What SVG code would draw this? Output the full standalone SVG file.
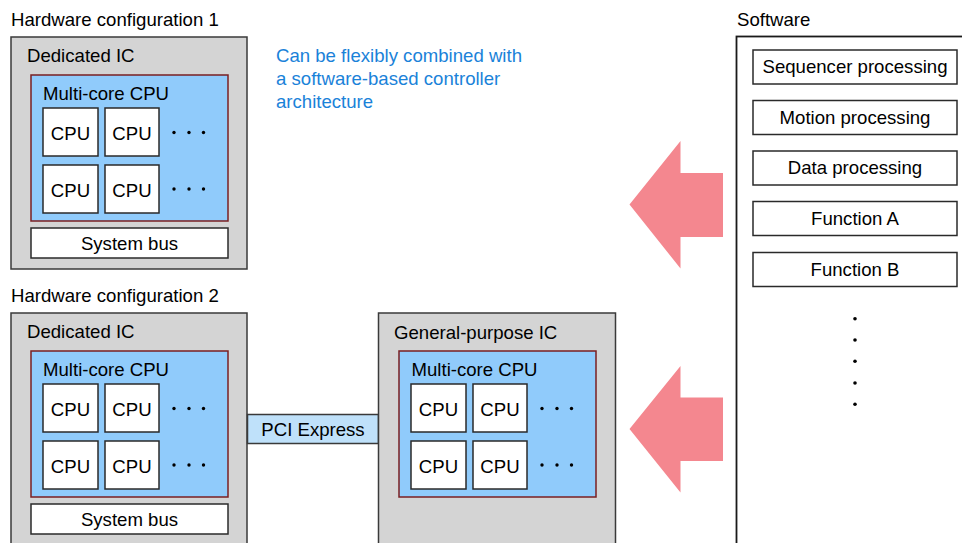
<svg xmlns="http://www.w3.org/2000/svg" width="962" height="543" viewBox="0 0 962 543">
<style>
text{font-family:"Liberation Sans",Arial,sans-serif;font-size:18.6px;fill:#000}
.c{text-anchor:middle}
.ic{fill:#d4d4d4;stroke:#3a3a3a;stroke-width:1.5}
.mc{fill:#90cbfb;stroke:#7a1f22;stroke-width:1.5}
.wb{fill:#fff;stroke:#2a2a2a;stroke-width:1.5}
.blue{fill:#1a82d9}
.arrow{fill:#f4878f}
.dot{fill:#000}
</style>
<defs>
<g id="cpuGrid">
<rect class="wb" x="12" y="33" width="55" height="48"/>
<text class="c" x="39.5" y="64.5">CPU</text>
<rect class="wb" x="74" y="33" width="54" height="48"/>
<text class="c" x="101" y="64.5">CPU</text>
<circle class="dot" cx="143" cy="57.5" r="1.7"/>
<circle class="dot" cx="158" cy="57.5" r="1.7"/>
<circle class="dot" cx="172.5" cy="57.5" r="1.7"/>
<rect class="wb" x="12" y="90" width="55" height="48"/>
<text class="c" x="39.5" y="121.5">CPU</text>
<rect class="wb" x="74" y="90" width="54" height="48"/>
<text class="c" x="101" y="121.5">CPU</text>
<circle class="dot" cx="143" cy="114" r="1.7"/>
<circle class="dot" cx="158" cy="114" r="1.7"/>
<circle class="dot" cx="172.5" cy="114" r="1.7"/>
</g>
</defs>

<g id="hw1">
<text x="11" y="26">Hardware configuration 1</text>
<rect class="ic" x="11" y="37" width="236" height="232"/>
<text x="27" y="62">Dedicated IC</text>
<g id="hw1-mc">
<rect class="mc" x="31" y="75" width="197" height="146"/>
<text x="43" y="100">Multi-core CPU</text>
<use href="#cpuGrid" x="31" y="75"/>
</g>
<rect class="wb" x="31" y="228" width="197" height="30"/>
<text class="c" x="129.5" y="249.5">System bus</text>
</g>

<g id="note">
<text class="blue" x="276" y="62">Can be flexibly combined with</text>
<text class="blue" x="276" y="85">a software-based controller</text>
<text class="blue" x="276" y="108">architecture</text>
</g>

<g id="hw2">
<text x="11" y="302">Hardware configuration 2</text>
<rect class="ic" x="11" y="313" width="236" height="240"/>
<text x="27" y="338">Dedicated IC</text>
<g id="hw2-mc">
<rect class="mc" x="31" y="351" width="197" height="146"/>
<text x="43" y="376">Multi-core CPU</text>
<use href="#cpuGrid" x="31" y="351"/>
</g>
<rect class="wb" x="31" y="504" width="197" height="30"/>
<text class="c" x="129.5" y="525.5">System bus</text>
</g>

<g id="pcie">
<rect x="247.5" y="414.5" width="131" height="29" fill="#bfe1fa" stroke="#3a3a3a" stroke-width="1.5"/>
<text class="c" x="313" y="435.5">PCI Express</text>
</g>

<g id="gpic">
<rect class="ic" x="378.5" y="313" width="237" height="240"/>
<text x="394" y="339">General-purpose IC</text>
<g id="gp-mc">
<rect class="mc" x="399" y="351" width="197" height="146"/>
<text x="411.5" y="376">Multi-core CPU</text>
<use href="#cpuGrid" x="399" y="351"/>
</g>
</g>

<g id="connectors">
<polygon class="arrow" points="629.5,204.5 680.5,141 680.5,173 723,173 723,237 680.5,237 680.5,268.5"/>
<polygon class="arrow" points="629.5,429 680.5,366 680.5,397.5 723,397.5 723,461 680.5,461 680.5,492.5"/>
</g>

<g id="software">
<text x="737" y="26">Software</text>
<rect x="736.5" y="36.5" width="240" height="520" fill="#fff" stroke="#1a1a1a" stroke-width="1.8"/>
<g id="sw1"><rect class="wb" x="753" y="50" width="204" height="34"/><text class="c" x="855" y="73">Sequencer processing</text></g>
<g id="sw2"><rect class="wb" x="753" y="100.5" width="204" height="34"/><text class="c" x="855" y="123.5">Motion processing</text></g>
<g id="sw3"><rect class="wb" x="753" y="151" width="204" height="34"/><text class="c" x="855" y="174">Data processing</text></g>
<g id="sw4"><rect class="wb" x="753" y="201.5" width="204" height="34"/><text class="c" x="855" y="224.5">Function A</text></g>
<g id="sw5"><rect class="wb" x="753" y="252.5" width="204" height="34"/><text class="c" x="855" y="275.5">Function B</text></g>
<circle class="dot" cx="855" cy="318.7" r="1.8"/>
<circle class="dot" cx="855" cy="340" r="1.8"/>
<circle class="dot" cx="855" cy="361.3" r="1.8"/>
<circle class="dot" cx="855" cy="383" r="1.8"/>
<circle class="dot" cx="855" cy="404.3" r="1.8"/>
</g>
</svg>
